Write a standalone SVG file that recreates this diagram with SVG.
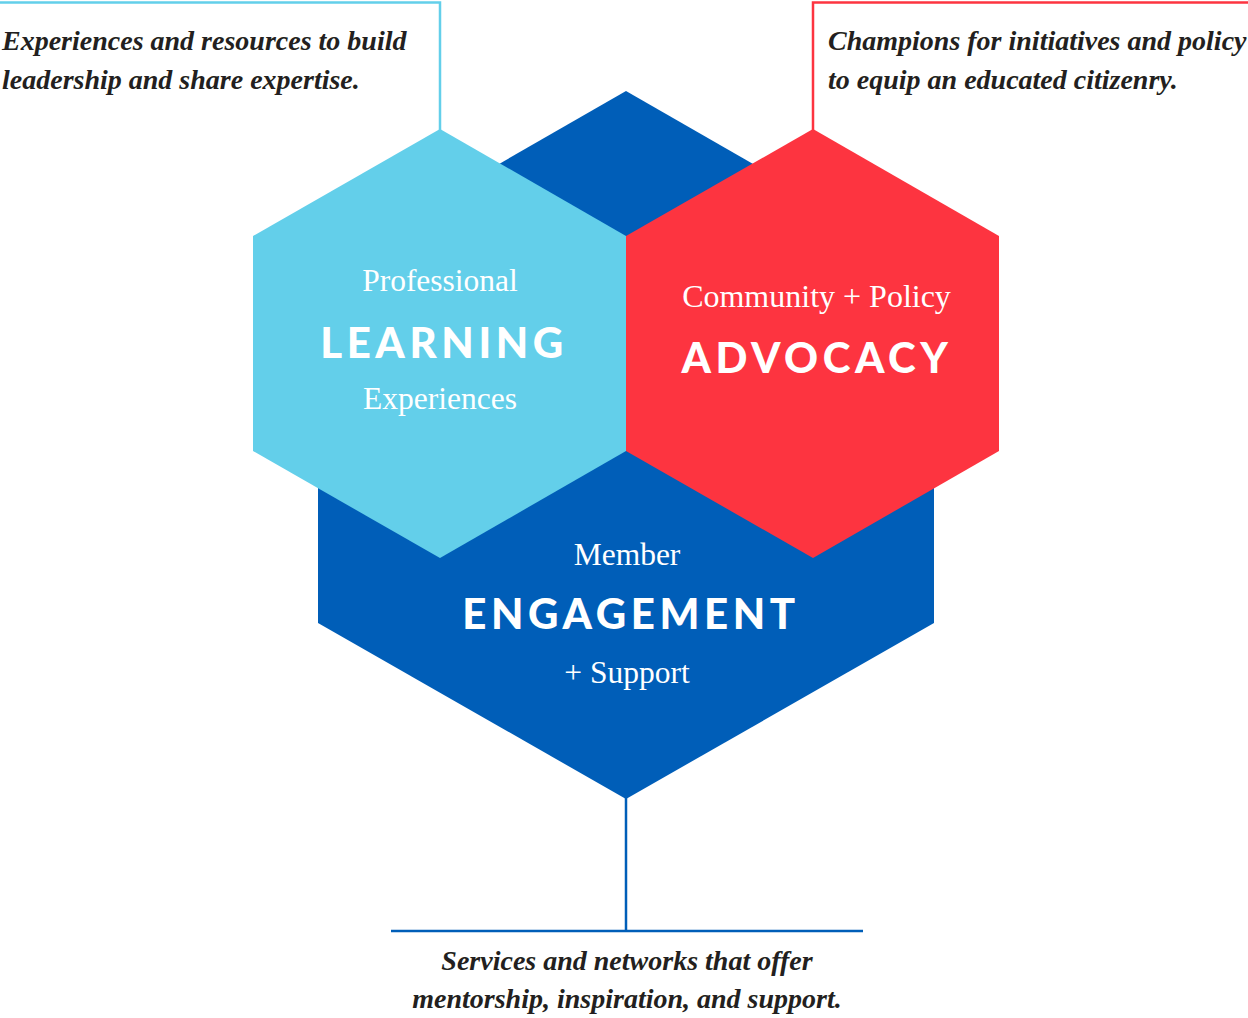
<svg xmlns="http://www.w3.org/2000/svg" width="1248" height="1018" viewBox="0 0 1248 1018">
<style>
.note{font-family:"Liberation Serif",serif;font-style:italic;font-weight:bold;font-size:28px;fill:#231f20}
.sub{font-family:"Liberation Serif",serif;font-size:31.5px;fill:#ffffff;text-anchor:middle}
.big{font-family:Lato,"Open Sans",sans-serif;font-weight:900;font-size:42px;fill:#ffffff;text-anchor:middle;letter-spacing:4.6px}
.ln{fill:none;stroke-width:2.5}
</style>
<rect width="1248" height="1018" fill="#ffffff"/>
<g id="connectors">
<polyline class="ln" stroke="#63cfea" points="0,2.5 440,2.5 440,130"/>
<polyline class="ln" stroke="#fd3440" points="1248,2.5 813,2.5 813,130"/>
<polyline class="ln" stroke="#005eb8" points="626,798 626,931"/>
<line class="ln" stroke="#005eb8" x1="391" y1="931" x2="863" y2="931"/>
</g>
<g id="engagement">
<polygon fill="#005eb8" points="626,91 934,268 934,623 626,799 318,623 318,268"/>
<text class="sub" x="627" y="565">Member</text>
<text class="big" x="631" y="629">ENGAGEMENT</text>
<text class="sub" x="627" y="683">+ Support</text>
</g>
<g id="learning">
<polygon fill="#63cfea" points="440,129 626,236 626,451 440,558 253,451 253,236"/>
<text class="sub" x="440" y="291">Professional</text>
<text class="big" x="444" y="358">LEARNING</text>
<text class="sub" x="440" y="409">Experiences</text>
</g>
<g id="advocacy">
<polygon fill="#fd3440" points="813,129 999,236 999,451 813,558 626,451 626,236"/>
<text class="sub" x="816.5" y="307" style="font-size:32px">Community + Policy</text>
<text class="big" x="817" y="373">ADVOCACY</text>
</g>
<g id="notes">
<text class="note" x="2" y="50">Experiences and resources to build</text>
<text class="note" x="2" y="89">leadership and share expertise.</text>
<text class="note" x="828" y="50">Champions for initiatives and policy</text>
<text class="note" x="828" y="89">to equip an educated citizenry.</text>
<text class="note" x="627" y="970" text-anchor="middle">Services and networks that offer</text>
<text class="note" x="627" y="1008" text-anchor="middle">mentorship, inspiration, and support.</text>
</g>
</svg>
